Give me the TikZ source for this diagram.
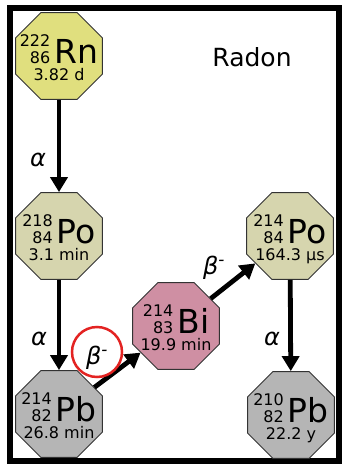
\documentclass[tikz,border=0pt]{standalone}
\usepackage{fontspec}
\setmainfont{DejaVu Sans}
\usetikzlibrary{arrows.meta,shapes.geometric}
\usepackage{xcolor}
\definecolor{rnyellow}{HTML}{E0DF7E}
\definecolor{pokhaki}{HTML}{D6D5AE}
\definecolor{bipink}{HTML}{CF8FA3}
\definecolor{pbgray}{HTML}{B5B5B5}
\definecolor{ringred}{HTML}{E32322}

% mass, charge, symbol, half-life
\newcommand{\isotope}[4]{%
  \makebox[0pt]{\smash{\raisebox{-8.6pt}{%
    \begin{tabular}{@{}c@{}}
      \begin{tabular}[b]{@{}r@{}}#1\\#2\end{tabular}\kern4pt%
      {\fontsize{33}{33}\selectfont #3}\\
      #4
    \end{tabular}}}}}

\tikzset{
  nuclide/.style={regular polygon, regular polygon sides=8,
    minimum size=94pt, inner sep=0pt, draw=black!80, line width=0.9pt,
    fill=#1, font=\fontsize{16}{17}\selectfont},
  decay/.style={-{Triangle[width=17pt,length=15pt]}, line width=4.8pt},
  decaylbl/.style={font=\fontsize{24}{24}\selectfont\itshape}
}

\begin{document}
\begin{tikzpicture}[x=1pt, y=-1pt]
  \useasboundingbox (0,0) rectangle (342,466);
  \draw[line width=6pt] (10,7.5) rectangle (339,461);

  \node[nuclide=rnyellow] (rn)  at (59,56)   {\isotope{222}{86}{Rn}{3.82 d}};
  \node[nuclide=pokhaki]  (po1) at (59,236)  {\isotope{218}{84}{Po}{3.1 min}};
  \node[nuclide=pbgray]   (pb1) at (59,414)  {\isotope{214}{82}{Pb}{26.8 min}};
  \node[nuclide=bipink]   (bi)  at (176,326) {\isotope{214}{83}{Bi}{19.9 min}};
  \node[nuclide=pokhaki]  (po2) at (290,236) {\isotope{214}{84}{Po}{164.3 μs}};
  \node[nuclide=pbgray]   (pb2) at (291,415) {\isotope{210}{82}{Pb}{22.2 y}};

  \node[font=\fontsize{25}{25}\selectfont] (title) at (252,57) {Radon};

  \draw[decay] (rn) -- (po1);
  \draw[decay] (po1) -- (pb1);
  \draw[decay] (pb1) -- (bi);
  \draw[decay] (bi) -- (po2);
  \draw[decay] (po2) -- (pb2);

  \node[decaylbl] (a1) at (38,160) {α};
  \node[decaylbl] (a2) at (39,339) {α};
  \node[decaylbl] (a3) at (272,339) {α};
  \node[decaylbl] (b1) at (97,358) {β\textsuperscript{-}};
  \node[decaylbl] (b2) at (214,268) {β\textsuperscript{-}};

  \node[circle, draw=ringred, line width=2.5pt, minimum size=50pt] (ring) at (97,352) {};
\end{tikzpicture}
\end{document}
